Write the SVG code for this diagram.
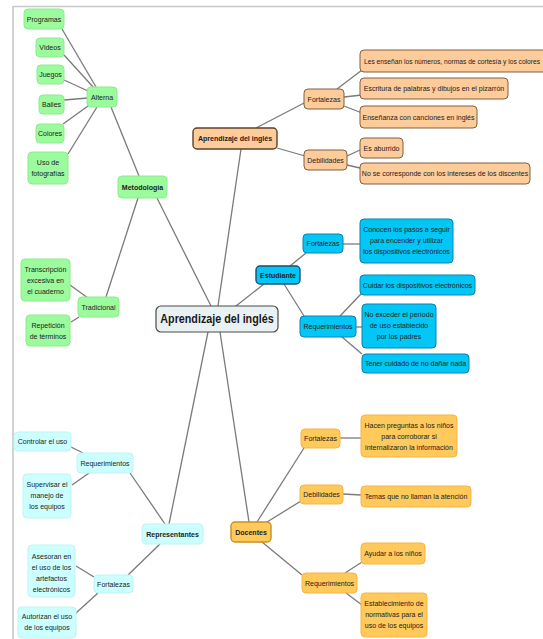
<svg xmlns="http://www.w3.org/2000/svg" width="543" height="639" viewBox="0 0 543 639">
<style>
text { font-family: "Liberation Sans", Arial, sans-serif; font-size: 8px; fill: #222; text-anchor: middle; transform-box: fill-box; transform-origin: center; transform: scaleX(0.88); }
text.b { font-weight: bold; }
text.tight { transform: scaleX(0.835); }
text.main { font-size: 12.5px; font-weight: bold; transform: scaleX(0.86); fill: #1a1a1a; }
rect { rx: 4px; ry: 4px; stroke-width: 1; }
.g rect { fill: #9cfb9c; stroke: #8ceb8c; }
.o rect { fill: #fecb9a; stroke: #80603f; }
.o.l1 rect { stroke: #5e4128; stroke-width: 1.4; }
.bl rect { fill: #02c6f5; stroke: #0a80b2; }
.bl.l1 rect { stroke: #1b4d6b; stroke-width: 1.4; }
.c rect { fill: #ccffff; stroke: #bff3f3; }
.y rect { fill: #ffc95c; stroke: #f5b540; }
.y.l1 rect { stroke: #c98f22; stroke-width: 1.4; }
.center rect { fill: #eaf1f3; stroke: #4a4a4a; stroke-width: 1.2; rx: 5px; ry: 5px; }
#connectors line { stroke: #7a7a7a; stroke-width: 1.3; }
#frame line { stroke: #c8c8c8; stroke-width: 1.6; }
</style>
<rect x="0" y="0" width="543" height="639" fill="#ffffff" style="rx:0;ry:0"/>
<g id="frame">
<line x1="13" y1="6.5" x2="543" y2="6.5"/>
<line x1="13" y1="6" x2="13" y2="639"/>
</g>
<g id="connectors">
<line x1="62" y1="29" x2="96" y2="87"/>
<line x1="64" y1="55" x2="94" y2="88"/>
<line x1="64" y1="80" x2="88" y2="91"/>
<line x1="64" y1="100" x2="88" y2="98"/>
<line x1="63" y1="124" x2="88" y2="106"/>
<line x1="68" y1="154" x2="97" y2="107"/>
<line x1="111" y1="107" x2="139" y2="176"/>
<line x1="138" y1="198" x2="106" y2="297"/>
<line x1="157" y1="198" x2="211" y2="306"/>
<line x1="70" y1="285" x2="88" y2="298"/>
<line x1="71" y1="322" x2="79" y2="317"/>
<line x1="218" y1="306" x2="241" y2="149"/>
<line x1="236" y1="306" x2="264" y2="284"/>
<line x1="208" y1="332" x2="169" y2="524"/>
<line x1="220" y1="332" x2="249" y2="522"/>
<line x1="256" y1="128" x2="306" y2="102"/>
<line x1="277" y1="148" x2="305" y2="156"/>
<line x1="337" y1="89" x2="362" y2="70"/>
<line x1="344" y1="97" x2="362" y2="95"/>
<line x1="344" y1="106" x2="362" y2="113"/>
<line x1="347" y1="156" x2="360" y2="150"/>
<line x1="347" y1="165" x2="360" y2="168"/>
<line x1="290" y1="266" x2="306" y2="253"/>
<line x1="284" y1="284" x2="304" y2="316"/>
<line x1="343" y1="244" x2="360" y2="244"/>
<line x1="340" y1="316" x2="361" y2="294"/>
<line x1="356" y1="327" x2="362" y2="327"/>
<line x1="342" y1="337" x2="362" y2="354"/>
<line x1="71" y1="447" x2="83" y2="453"/>
<line x1="72" y1="485" x2="89" y2="473"/>
<line x1="130" y1="473" x2="165" y2="524"/>
<line x1="160" y1="544" x2="128" y2="575"/>
<line x1="76" y1="566" x2="94" y2="577"/>
<line x1="76" y1="613" x2="98" y2="593"/>
<line x1="257" y1="522" x2="304" y2="448"/>
<line x1="267" y1="522" x2="301" y2="501"/>
<line x1="262" y1="542" x2="302" y2="575"/>
<line x1="340" y1="438" x2="361" y2="438"/>
<line x1="343" y1="494" x2="361" y2="495"/>
<line x1="345" y1="573" x2="362" y2="562"/>
<line x1="346" y1="593" x2="362" y2="605"/>
</g>

<g id="center" class="center"><rect x="156" y="306" width="122" height="26"/><text class="main" x="217" y="323.5">Aprendizaje del inglés</text></g>

<g id="metodologia" class="g"><rect x="118" y="176" width="49" height="22"/><text class="b" x="142.5" y="190">Metodología</text></g>
<g id="alterna" class="g"><rect x="87" y="87" width="30" height="20"/><text x="102" y="100">Alterna</text></g>
<g id="programas" class="g"><rect x="24" y="9" width="40" height="20"/><text x="44" y="22">Programas</text></g>
<g id="videos" class="g"><rect x="36" y="38" width="28" height="19"/><text x="50" y="50.5">Videos</text></g>
<g id="juegos" class="g"><rect x="37" y="65" width="27" height="19"/><text x="50.5" y="77.5">Juegos</text></g>
<g id="bailes" class="g"><rect x="39" y="95" width="25" height="19"/><text x="51.5" y="107.5">Bailes</text></g>
<g id="colores" class="g"><rect x="36" y="124" width="28" height="19"/><text x="50" y="136.5">Colores</text></g>
<g id="fotografias" class="g"><rect x="28" y="152" width="40" height="32"/><text x="48" y="165">Uso de</text><text x="48" y="176">fotografías</text></g>
<g id="tradicional" class="g"><rect x="78" y="297" width="41" height="20"/><text x="98.5" y="310">Tradicional</text></g>
<g id="transcripcion" class="g"><rect x="21" y="259" width="49" height="42"/><text x="45.5" y="272">Transcripción</text><text x="45.5" y="283">excesiva en</text><text x="45.5" y="294">el cuaderno</text></g>
<g id="repeticion" class="g"><rect x="26" y="315" width="44" height="31"/><text x="48" y="328">Repetición</text><text x="48" y="339">de términos</text></g>

<g id="aprendizaje" class="o l1"><rect x="193" y="128" width="84" height="21"/><text class="b" x="235" y="141.5">Aprendizaje del inglés</text></g>
<g id="o-fortalezas" class="o"><rect x="304" y="89" width="40" height="20"/><text x="324" y="102">Fortalezas</text></g>
<g id="o-debilidades" class="o"><rect x="304" y="150" width="43" height="20"/><text x="325.5" y="163">Debilidades</text></g>
<g id="o-les" class="o"><rect x="360" y="50" width="200" height="22"/><text class="tight" x="452" y="64">Les enseñan los números, normas de cortesía y los colores</text></g>
<g id="o-escritura" class="o"><rect x="360" y="78" width="148" height="21"/><text x="434" y="91.5">Escritura de palabras y dibujos en el pizarrón</text></g>
<g id="o-ensenanza" class="o"><rect x="360" y="106" width="117" height="22"/><text x="418.5" y="120">Enseñanza con canciones en inglés</text></g>
<g id="o-aburrido" class="o"><rect x="360" y="138" width="43" height="20"/><text x="381.5" y="151">Es aburrido</text></g>
<g id="o-nose" class="o"><rect x="360" y="163" width="170" height="21"/><text x="445" y="176.5">No se corresponde con los intereses de los discentes</text></g>

<g id="estudiante" class="bl l1"><rect x="256" y="266" width="44" height="18"/><text class="b" x="278" y="278">Estudiante</text></g>
<g id="b-fortalezas" class="bl"><rect x="303" y="234" width="40" height="19"/><text x="323" y="246.5">Fortalezas</text></g>
<g id="b-conocen" class="bl"><rect x="360" y="219" width="93" height="44"/><text x="406.5" y="232">Conocen los pasos a seguir</text><text x="406.5" y="243">para encender y utilizar</text><text x="406.5" y="254">los dispositivos electrónicos</text></g>
<g id="b-requerimientos" class="bl"><rect x="300" y="316" width="56" height="21"/><text x="328" y="329.5">Requerimientos</text></g>
<g id="b-cuidar" class="bl"><rect x="360" y="275" width="115" height="20"/><text x="417.5" y="288">Cuidar los dispositivos electrónicos</text></g>
<g id="b-noexceder" class="bl"><rect x="362" y="304" width="74" height="44"/><text x="399" y="317">No exceder el período</text><text x="399" y="328">de uso establecido</text><text x="399" y="339">por los padres</text></g>
<g id="b-tener" class="bl"><rect x="362" y="354" width="107" height="19"/><text x="415.5" y="366.5">Tener cuidado de no dañar nada</text></g>

<g id="representantes" class="c"><rect x="142" y="524" width="61" height="20"/><text class="b" x="172.5" y="537">Representantes</text></g>
<g id="c-requerimientos" class="c"><rect x="77" y="453" width="56" height="20"/><text x="105" y="466">Requerimientos</text></g>
<g id="c-controlar" class="c"><rect x="14" y="432" width="57" height="19"/><text x="42.5" y="444.5">Controlar el uso</text></g>
<g id="c-supervisar" class="c"><rect x="23" y="474" width="48" height="44"/><text x="47" y="487">Supervisar el</text><text x="47" y="498">manejo de</text><text x="47" y="509">los equipos</text></g>
<g id="c-fortalezas" class="c"><rect x="94" y="575" width="39" height="18"/><text x="113.5" y="587">Fortalezas</text></g>
<g id="c-asesoran" class="c"><rect x="28" y="545" width="47" height="52"/><text x="51.5" y="559">Asesoran en</text><text x="51.5" y="570">el uso de los</text><text x="51.5" y="581">artefactos</text><text x="51.5" y="592">electrónicos</text></g>
<g id="c-autorizan" class="c"><rect x="18" y="607" width="58" height="31"/><text x="47" y="619">Autorizan el uso</text><text x="47" y="630">de los equipos</text></g>

<g id="docentes" class="y l1"><rect x="231" y="522" width="40" height="20"/><text class="b" x="251" y="535">Docentes</text></g>
<g id="y-fortalezas" class="y"><rect x="301" y="429" width="39" height="19"/><text x="320.5" y="441.5">Fortalezas</text></g>
<g id="y-hacen" class="y"><rect x="361" y="415" width="96" height="42"/><text x="409" y="428">Hacen preguntas a los niños</text><text x="409" y="439">para corroborar si</text><text x="409" y="450">internalizaron la información</text></g>
<g id="y-debilidades" class="y"><rect x="300" y="485" width="43" height="19"/><text x="321.5" y="497.5">Debilidades</text></g>
<g id="y-temas" class="y"><rect x="361" y="486" width="110" height="21"/><text x="416" y="499.5">Temas que no llaman la atención</text></g>
<g id="y-requerimientos" class="y"><rect x="302" y="573" width="55" height="20"/><text x="329.5" y="586">Requerimientos</text></g>
<g id="y-ayudar" class="y"><rect x="361" y="543" width="64" height="21"/><text x="393" y="556.5">Ayudar a los niños</text></g>
<g id="y-establecimiento" class="y"><rect x="361" y="593" width="66" height="44"/><text x="394" y="606">Establecimiento de</text><text x="394" y="617">normativas para el</text><text x="394" y="628">uso de los equipos</text></g>
</svg>
